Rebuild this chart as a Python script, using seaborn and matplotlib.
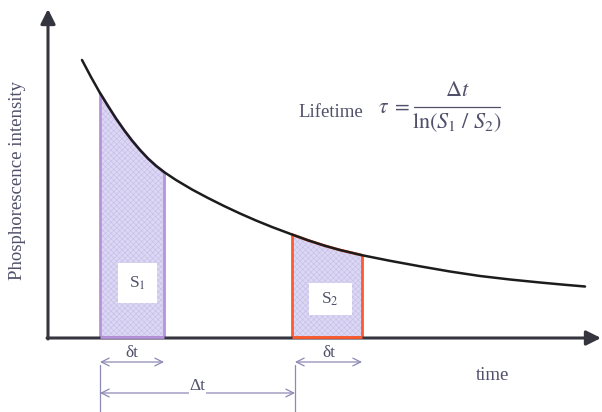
import numpy as np
import pandas as pd
import matplotlib
matplotlib.use("Agg")
import matplotlib.pyplot as plt
import seaborn as sns

# ---- data (arbitrary units) ----
time = [3.4, 4.3, 5.2, 6.0, 6.8, 7.6, 8.4, 9.2, 10.0, 10.8, 11.6, 12.8, 14.4, 16.0, 17.6,
        19.2, 20.8, 22.4, 24.4, 26.0, 27.6, 29.2, 31.4, 34.2, 37.2, 40.2, 43.2, 46.2,
        49.2, 51.7, 53.7]
intensity = [27.8, 26.1, 24.5, 23.2, 21.95, 20.8, 19.75, 18.8, 17.95, 17.22, 16.6, 15.8,
             14.85, 14.0, 13.2, 12.45, 11.75, 11.1, 10.35, 9.77, 9.25, 8.8, 8.28, 7.72,
             7.17, 6.65, 6.2, 5.85, 5.55, 5.32, 5.15]
s1_window = [5.2, 11.6]
s2_window = [24.4, 31.4]
x_label = "time"
y_label = "Phosphorescence intensity"

sns.set_theme(style="white")
plt.rcParams["font.family"] = ["Liberation Serif", "DejaVu Serif"]
plt.rcParams["mathtext.fontset"] = "stix"
plt.rcParams["hatch.linewidth"] = 0.4

W, H = 602, 412
OX, OY, SC = 48, 338, 10.0  # axes origin in pixels, pixels per unit


def P(px, py):
    return (px - OX) / SC, (OY - py) / SC


fig = plt.figure(figsize=(W / 100, H / 100), dpi=100)
ax = fig.add_axes([0, 0, 1, 1])
ax.set_xlim(P(0, 0)[0], P(W, 0)[0])
ax.set_ylim(P(0, H)[1], P(0, 0)[1])
ax.axis("off")

df = pd.DataFrame({"time": time, "intensity": intensity})
t = np.array(time)
I = np.array(intensity)

axis_c = "#35353f"
text_c = "#50506a"
dim_c = "#8c89b5"

# shaded windows
for win, edge in [(s1_window, "#b793dc"), (s2_window, "#ff5a2c")]:
    m = (t >= win[0] - 1e-9) & (t <= win[1] + 1e-9)
    ax.fill_between(t[m], 0, I[m], facecolor="#dcd7f3", edgecolor="#c4bde9",
                    hatch="xxxxxx", linewidth=0, zorder=1)
    ax.plot([win[0], win[0]], [0, I[m][0]], color=edge, lw=2.0, zorder=2, solid_capstyle="butt")
    ax.plot([win[1], win[1]], [0, I[m][-1]], color=edge, lw=2.0, zorder=2, solid_capstyle="butt")
    ax.plot(t[m], I[m], color=edge, lw=2.0, zorder=2)
    ax.plot(win, [0.1, 0.1], color=edge, lw=2.0, zorder=4, solid_capstyle="butt")

# decay curve
sns.lineplot(data=df, x="time", y="intensity", ax=ax, color="#1c1c1c", lw=1.8, zorder=3,
             estimator=None, sort=False)

# axes arrows
x_end = P(601, OY)[0]
y_end = P(OX, 9)[1]
ax.annotate("", xy=(x_end, 0), xytext=(-0.1, 0), annotation_clip=False,
            arrowprops=dict(arrowstyle="-|>", color=axis_c, lw=2.2, mutation_scale=22,
                            shrinkA=0, shrinkB=0), zorder=3)
ax.annotate("", xy=(0, y_end), xytext=(0, -0.1), annotation_clip=False,
            arrowprops=dict(arrowstyle="-|>", color=axis_c, lw=2.2, mutation_scale=22,
                            shrinkA=0, shrinkB=0), zorder=3)

# labels in windows
for lx, ly, bw, bh, txt in [(137, 283, 39, 40, "S$_1$"), (330, 299, 43, 32, "S$_2$")]:
    x0, y0 = P(lx - bw / 2, ly + bh / 2)
    ax.add_patch(plt.Rectangle((x0, y0), bw / SC, bh / SC, facecolor="white",
                               edgecolor="none", zorder=5))
    ax.text(*P(lx, ly), txt, ha="center", va="center", fontsize=12.5, color=text_c, zorder=6)

# axis titles
ax.text(*P(18, 181), y_label, rotation=90, ha="center", va="center", fontsize=13.5, color=text_c)
ax.text(*P(493, 375), x_label, ha="center", va="center", fontsize=13.5, color=text_c)

# formula
ax.text(*P(298, 113), "Lifetime", ha="left", va="center", fontsize=13.5, color=text_c)
ax.text(*P(410, 109), r"$\tau\;=$", ha="right", va="center", fontsize=15.5, color=text_c)
bx0, bx1 = P(414, 107)[0], P(500, 107)[0]
by = P(0, 107)[1]
ax.plot([bx0, bx1], [by, by], color=text_c, lw=0.9)
ax.text((bx0 + bx1) / 2, P(0, 92)[1], r"$\Delta t$", ha="center", va="center", fontsize=16,
        color=text_c)
ax.text((bx0 + bx1) / 2, P(0, 123)[1], r"$\mathrm{ln}(S_1\ /\ S_2)$", ha="center",
        va="center", fontsize=16, color=text_c)

# dimension arrows
arr = dict(arrowstyle="<->", color=dim_c, lw=0.9, mutation_scale=14, shrinkA=0, shrinkB=0)
yd = P(0, 362)[1]
yD = P(0, 393)[1]
ybot = P(0, 412)[1]
ytop = P(0, 365)[1]
x2 = s2_window[0] + 0.3
ax.annotate("", xy=(s1_window[0], yd), xytext=(s1_window[1], yd), arrowprops=arr)
ax.annotate("", xy=(x2, yd), xytext=(s2_window[1], yd), arrowprops=arr)
ax.annotate("", xy=(s1_window[0], yD), xytext=(x2, yD), arrowprops=arr)
ax.plot([s1_window[0], s1_window[0]], [ytop, ybot], color=dim_c, lw=0.9)
ax.plot([x2, x2], [ytop, ybot], color=dim_c, lw=0.9)
ax.text(np.mean(s1_window), P(0, 353)[1], "δt", ha="center", va="center", fontsize=12.5, color=text_c)
ax.text(np.mean([x2, s2_window[1]]), P(0, 353)[1], "δt", ha="center",
        va="center", fontsize=12.5, color=text_c)
ax.text(np.mean([s1_window[0], x2]), P(0, 386)[1], "Δt", ha="center",
        va="center", fontsize=12.5, color=text_c,
        bbox=dict(facecolor="white", edgecolor="none", pad=0.3))

fig.savefig("out.png", dpi=100)
